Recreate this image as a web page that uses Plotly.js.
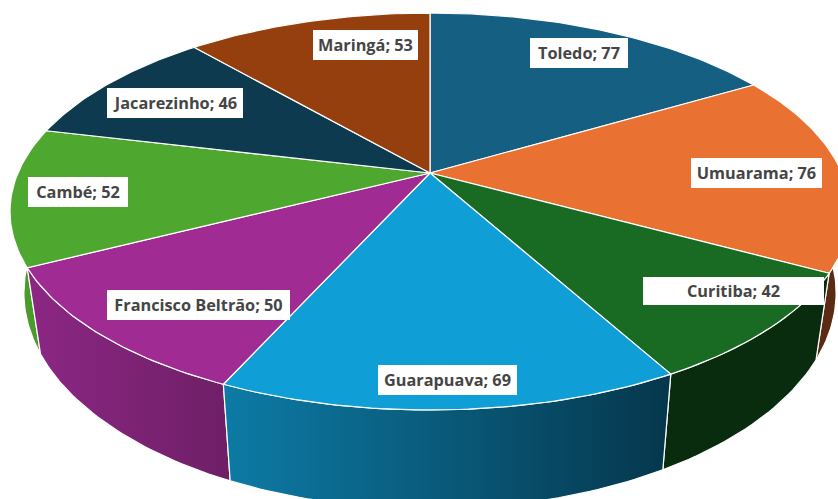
<!DOCTYPE html>
<html>
<head>
<meta charset="utf-8">
<script src="https://cdn.plot.ly/plotly-3.0.1.min.js"></script>
<style>html,body{margin:0;padding:0;background:#fff}#chart{width:838px;height:499px}</style>
</head>
<body>
<div id="chart"></div>
<script>
const categories = ['Toledo','Umuarama','Curitiba','Guarapuava','Francisco Beltrão','Cambé','Jacarezinho','Maringá'];
const values = [77,76,42,69,50,52,46,53];
const topColors = ['#156082','#E97132','#196B24','#0F9ED5','#A02B93','#4EA72E','#0D3A4E','#963F0E'];
const wallLeft  = ['#0D3A4E','#5E2C13','#0A2C0E','#0D7BA6','#8C2784','#4B9B2C','#0D3A4E','#5E2C13'];
const wallRight = ['#0D3A4E','#5A2A12','#0A2C0E','#05374C','#6E1F66','#4B9B2C','#0D3A4E','#5E2C13'];
const labelCx = [579,756.5,733.5,447.5,198.5,78,175,365.5];
const labelCy = [53,173,291,380,305,192,103,45];
const labelW  = [98,131,181,139,183,100,136,105];

// Perspective model of the tilted disc
const cx = 430, cy = 173, A = 412, B = 191, k = 0.194;
const wallScaleX = 0.967, wallScaleY = 1.088, wallCy = 251;

function topPoint(deg){
  const t = deg*Math.PI/180, X = Math.sin(t), Y = Math.cos(t), w = 1 + k*Y;
  return [cx + A*X/w, cy - B*Y/w];
}
function bottomPoint(deg){
  const p = topPoint(deg);
  return [cx + wallScaleX*(p[0]-cx), wallCy + wallScaleY*(p[1]-cy)];
}
function arc(fn, a0, a1){
  const n = Math.max(2, Math.ceil(Math.abs(a1-a0))), pts = [];
  for(let i=0;i<=n;i++) pts.push(fn(a0+(a1-a0)*i/n));
  return pts;
}

const total = values.reduce((s,v)=>s+v,0);
let acc = 0;
const slices = values.map((v,i)=>{
  const a0 = acc/total*360; acc += v; const a1 = acc/total*360;
  return {i,a0,a1,mid:(a0+a1)/2};
});

const base = {type:'scatter',mode:'lines',fill:'toself',hoverinfo:'skip',showlegend:false};

const wallTraces = slices.slice().sort((a,b)=>Math.abs(b.mid-180)-Math.abs(a.mid-180)).map(s=>{
  const pts = arc(topPoint,s.a0,s.a1).concat(arc(bottomPoint,s.a1,s.a0));
  pts.push(pts[0]);
  return Object.assign({},base,{
    x:pts.map(p=>p[0]), y:pts.map(p=>p[1]),
    line:{color:'#fff',width:1.2},
    fillcolor:wallLeft[s.i],
    fillgradient:{type:'horizontal',colorscale:[[0,wallLeft[s.i]],[1,wallRight[s.i]]]}
  });
});

const topTraces = slices.map(s=>{
  const pts = [[cx,cy]].concat(arc(topPoint,s.a0,s.a1));
  pts.push([cx,cy]);
  return Object.assign({},base,{
    x:pts.map(p=>p[0]), y:pts.map(p=>p[1]),
    line:{color:'#fff',width:1.2},
    fillcolor:topColors[s.i]
  });
});

const annotations = categories.map((c,i)=>({
  x:labelCx[i], y:labelCy[i], xref:'x', yref:'y',
  text:c+'; '+values[i], showarrow:false,
  xanchor:'center', yanchor:'middle',
  width:labelW[i], height:i===2?28:30, align:'center', valign:'middle',
  bgcolor:'#fff', borderpad:0, borderwidth:0,
  font:{family:'"Open Sans", sans-serif',size:16.3,weight:700,color:'#454545'}
}));

Plotly.newPlot('chart',wallTraces.concat(topTraces),{
  width:838,height:499,
  margin:{l:0,r:0,t:0,b:0},
  paper_bgcolor:'#fff',plot_bgcolor:'#fff',
  xaxis:{range:[0,838],visible:false,fixedrange:true},
  yaxis:{range:[499,0],visible:false,fixedrange:true},
  annotations,showlegend:false
},{displayModeBar:false,staticPlot:true});
</script>
</body>
</html>
